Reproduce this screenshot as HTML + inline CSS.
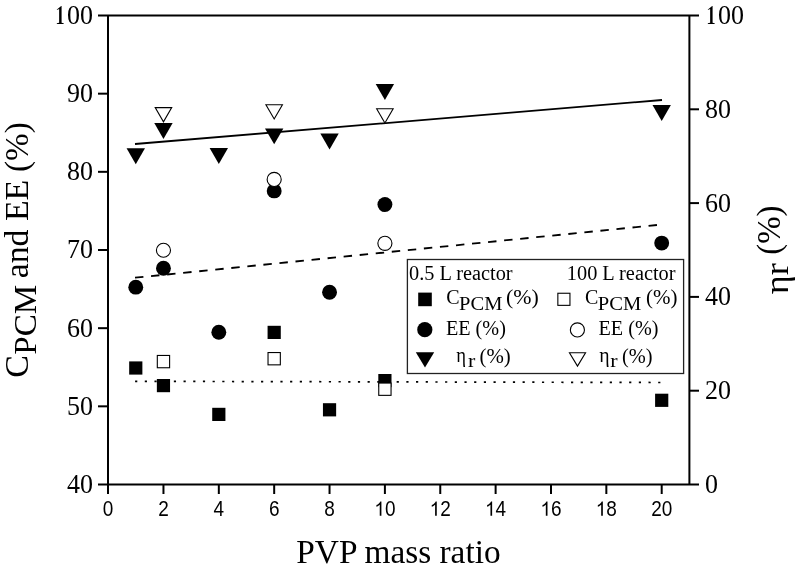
<!DOCTYPE html>
<html><head><meta charset="utf-8"><style>
html,body{margin:0;padding:0;background:#fff;}
svg{display:block;will-change:transform;}
.serif{font-family:"Liberation Serif",serif;fill:#000;}
.sans{font-family:"Liberation Sans",sans-serif;fill:#000;}
</style></head><body>
<svg width="799" height="573" viewBox="0 0 799 573">
<path d="M98,15.5 H699 M108,15.5 V494 M689.4,15.5 V484.5 M98,484.5 H699" stroke="#000" stroke-width="2" fill="none"/>
<path transform="translate(54.00,23.90) scale(0.012695,-0.013711)" d="M598,78 L764,52 L764,0 L223,0 L223,52 L405,78 L405,1080 L228,1010 L228,1053 L565,1310 L598,1310 Z" fill="#000"/>
<text transform="translate(93,23.90) scale(1,1.08)" class="serif" font-size="26" text-anchor="end">00</text>
<path d="M98,93.67 H108" stroke="#000" stroke-width="2"/>
<text transform="translate(93,102.07) scale(1,1.08)" class="serif" font-size="26" text-anchor="end">90</text>
<path d="M98,171.83 H108" stroke="#000" stroke-width="2"/>
<text transform="translate(93,180.23) scale(1,1.08)" class="serif" font-size="26" text-anchor="end">80</text>
<path d="M98,250.00 H108" stroke="#000" stroke-width="2"/>
<text transform="translate(93,258.40) scale(1,1.08)" class="serif" font-size="26" text-anchor="end">70</text>
<path d="M98,328.17 H108" stroke="#000" stroke-width="2"/>
<text transform="translate(93,336.57) scale(1,1.08)" class="serif" font-size="26" text-anchor="end">60</text>
<path d="M98,406.33 H108" stroke="#000" stroke-width="2"/>
<text transform="translate(93,414.73) scale(1,1.08)" class="serif" font-size="26" text-anchor="end">50</text>
<text transform="translate(93,492.90) scale(1,1.08)" class="serif" font-size="26" text-anchor="end">40</text>
<path transform="translate(705.00,23.90) scale(0.012695,-0.013711)" d="M598,78 L764,52 L764,0 L223,0 L223,52 L405,78 L405,1080 L228,1010 L228,1053 L565,1310 L598,1310 Z" fill="#000"/>
<text transform="translate(718,23.90) scale(1,1.08)" class="serif" font-size="26">00</text>
<path d="M689.4,109.30 H699" stroke="#000" stroke-width="2"/>
<text transform="translate(705,117.70) scale(1,1.08)" class="serif" font-size="26">80</text>
<path d="M689.4,203.10 H699" stroke="#000" stroke-width="2"/>
<text transform="translate(705,211.50) scale(1,1.08)" class="serif" font-size="26">60</text>
<path d="M689.4,296.90 H699" stroke="#000" stroke-width="2"/>
<text transform="translate(705,305.30) scale(1,1.08)" class="serif" font-size="26">40</text>
<path d="M689.4,390.70 H699" stroke="#000" stroke-width="2"/>
<text transform="translate(705,399.10) scale(1,1.08)" class="serif" font-size="26">20</text>
<text transform="translate(705,492.90) scale(1,1.08)" class="serif" font-size="26">0</text>
<text transform="translate(108.10,515.7) scale(1,1.12)" class="sans" font-size="19" text-anchor="middle">0</text>
<path d="M163.46,484.5 V494" stroke="#000" stroke-width="2"/>
<text transform="translate(163.46,515.7) scale(1,1.12)" class="sans" font-size="19" text-anchor="middle">2</text>
<path d="M218.82,484.5 V494" stroke="#000" stroke-width="2"/>
<text transform="translate(218.82,515.7) scale(1,1.12)" class="sans" font-size="19" text-anchor="middle">4</text>
<path d="M274.18,484.5 V494" stroke="#000" stroke-width="2"/>
<text transform="translate(274.18,515.7) scale(1,1.12)" class="sans" font-size="19" text-anchor="middle">6</text>
<path d="M329.54,484.5 V494" stroke="#000" stroke-width="2"/>
<text transform="translate(329.54,515.7) scale(1,1.12)" class="sans" font-size="19" text-anchor="middle">8</text>
<path d="M384.90,484.5 V494" stroke="#000" stroke-width="2"/>
<path transform="translate(374.33,515.7) scale(0.009277,-0.009579)" d="M763,0 L583,0 L583,1147 Q518,1085 412.5,1023 Q307,961 223,930 L223,1104 Q374,1175 487,1276 Q600,1377 647,1472 L763,1472 Z" fill="#000"/>
<text transform="translate(384.90,515.7) scale(1,1.12)" class="sans" font-size="19">0</text>
<path d="M440.26,484.5 V494" stroke="#000" stroke-width="2"/>
<path transform="translate(429.69,515.7) scale(0.009277,-0.009579)" d="M763,0 L583,0 L583,1147 Q518,1085 412.5,1023 Q307,961 223,930 L223,1104 Q374,1175 487,1276 Q600,1377 647,1472 L763,1472 Z" fill="#000"/>
<text transform="translate(440.26,515.7) scale(1,1.12)" class="sans" font-size="19">2</text>
<path d="M495.62,484.5 V494" stroke="#000" stroke-width="2"/>
<path transform="translate(485.05,515.7) scale(0.009277,-0.009579)" d="M763,0 L583,0 L583,1147 Q518,1085 412.5,1023 Q307,961 223,930 L223,1104 Q374,1175 487,1276 Q600,1377 647,1472 L763,1472 Z" fill="#000"/>
<text transform="translate(495.62,515.7) scale(1,1.12)" class="sans" font-size="19">4</text>
<path d="M550.98,484.5 V494" stroke="#000" stroke-width="2"/>
<path transform="translate(540.41,515.7) scale(0.009277,-0.009579)" d="M763,0 L583,0 L583,1147 Q518,1085 412.5,1023 Q307,961 223,930 L223,1104 Q374,1175 487,1276 Q600,1377 647,1472 L763,1472 Z" fill="#000"/>
<text transform="translate(550.98,515.7) scale(1,1.12)" class="sans" font-size="19">6</text>
<path d="M606.34,484.5 V494" stroke="#000" stroke-width="2"/>
<path transform="translate(595.77,515.7) scale(0.009277,-0.009579)" d="M763,0 L583,0 L583,1147 Q518,1085 412.5,1023 Q307,961 223,930 L223,1104 Q374,1175 487,1276 Q600,1377 647,1472 L763,1472 Z" fill="#000"/>
<text transform="translate(606.34,515.7) scale(1,1.12)" class="sans" font-size="19">8</text>
<path d="M661.70,484.5 V494" stroke="#000" stroke-width="2"/>
<text transform="translate(661.70,515.7) scale(1,1.12)" class="sans" font-size="19" text-anchor="middle">20</text>
<text x="296.35" y="563.00" class="serif" font-size="33" textLength="204.22" lengthAdjust="spacingAndGlyphs">PVP mass ratio</text>
<text transform="translate(28.00,377.69) rotate(-90)" class="serif" font-size="34">C</text>
<text transform="translate(35.80,354.75) rotate(-90)" class="serif" font-size="32" textLength="69.92" lengthAdjust="spacingAndGlyphs">PCM</text>
<text transform="translate(28.40,278.29) rotate(-90)" class="serif" font-size="34" textLength="98.47" lengthAdjust="spacingAndGlyphs">and EE</text>
<text transform="translate(27.60,171.95) rotate(-90)" class="serif" font-size="33" textLength="49.61" lengthAdjust="spacingAndGlyphs">(%)</text>
<text transform="translate(788.00,294.27) rotate(-90)" class="serif" font-size="34" textLength="31.09" lengthAdjust="spacingAndGlyphs">ηr</text>
<text transform="translate(779.90,254.74) rotate(-90)" class="serif" font-size="33" textLength="49.18" lengthAdjust="spacingAndGlyphs">(%)</text>
<path d="M135,144 L662,100" stroke="#000" stroke-width="1.8" fill="none"/>
<path d="M135,277.7 L661,224.6" stroke="#000" stroke-width="1.85" fill="none" stroke-dasharray="8.45 7.68"/>
<path d="M135.1,381.3 L660.5,382.5" stroke="#000" stroke-width="1.7" fill="none" stroke-dasharray="2.2 7.487"/>
<path d="M126.58,148.30 L144.98,148.30 L135.78,164.20 Z" fill="#000"/>
<path d="M154.26,123.00 L172.66,123.00 L163.46,138.90 Z" fill="#000"/>
<path d="M209.62,148.00 L228.02,148.00 L218.82,163.90 Z" fill="#000"/>
<path d="M264.98,128.40 L283.38,128.40 L274.18,144.30 Z" fill="#000"/>
<path d="M320.34,133.60 L338.74,133.60 L329.54,149.50 Z" fill="#000"/>
<path d="M375.70,84.10 L394.10,84.10 L384.90,100.00 Z" fill="#000"/>
<path d="M652.50,105.00 L670.90,105.00 L661.70,120.90 Z" fill="#000"/>
<circle cx="135.78" cy="287.15" r="7.45" fill="#000"/>
<circle cx="163.46" cy="268.3" r="7.45" fill="#000"/>
<circle cx="218.82" cy="332.2" r="7.45" fill="#000"/>
<circle cx="274.18" cy="190.9" r="7.45" fill="#000"/>
<circle cx="329.54" cy="292.2" r="7.45" fill="#000"/>
<circle cx="384.9" cy="204.55" r="7.45" fill="#000"/>
<circle cx="661.7" cy="243.1" r="7.45" fill="#000"/>
<rect x="129.18" y="361.40" width="13.2" height="13.2" fill="#000"/>
<rect x="156.86" y="379.00" width="13.2" height="13.2" fill="#000"/>
<rect x="212.22" y="407.80" width="13.2" height="13.2" fill="#000"/>
<rect x="267.58" y="325.80" width="13.2" height="13.2" fill="#000"/>
<rect x="322.94" y="403.20" width="13.2" height="13.2" fill="#000"/>
<rect x="378.30" y="374.00" width="13.2" height="13.2" fill="#000"/>
<rect x="655.10" y="393.70" width="13.2" height="13.2" fill="#000"/>
<path d="M155.21,107.65 L171.71,107.65 L163.46,121.90 Z" fill="#fff" stroke="#000" stroke-width="1.1" stroke-linejoin="miter"/>
<path d="M265.93,104.75 L282.43,104.75 L274.18,119.00 Z" fill="#fff" stroke="#000" stroke-width="1.1" stroke-linejoin="miter"/>
<path d="M376.65,108.75 L393.15,108.75 L384.90,123.00 Z" fill="#fff" stroke="#000" stroke-width="1.1" stroke-linejoin="miter"/>
<circle cx="163.46" cy="250.25" r="7.05" fill="#fff" stroke="#000" stroke-width="1.1"/>
<circle cx="274.18" cy="179.4" r="7.05" fill="#fff" stroke="#000" stroke-width="1.1"/>
<circle cx="384.9" cy="243.35" r="7.05" fill="#fff" stroke="#000" stroke-width="1.1"/>
<rect x="157.31" y="355.45" width="12.30" height="12.30" fill="#fff" stroke="#000" stroke-width="1.1"/>
<rect x="268.03" y="352.55" width="12.30" height="12.30" fill="#fff" stroke="#000" stroke-width="1.1"/>
<rect x="378.75" y="383.05" width="12.30" height="12.30" fill="#fff" stroke="#000" stroke-width="1.1"/>
<rect x="407.4" y="259.5" width="276.2" height="114" fill="#fff" stroke="#222" stroke-width="1.3"/>
<text x="409.03" y="279.90" class="serif" font-size="20" textLength="103.54" lengthAdjust="spacingAndGlyphs">0.5 L reactor</text>
<text x="566.83" y="279.90" class="serif" font-size="20" textLength="108.65" lengthAdjust="spacingAndGlyphs">100 L reactor</text>
<rect x="418.20" y="292.60" width="13.6" height="13.6" fill="#000"/>
<text x="446.18" y="303.80" class="serif" font-size="20">C</text>
<text x="459.11" y="309.50" class="serif" font-size="19.5" textLength="43.29" lengthAdjust="spacingAndGlyphs">PCM</text>
<text x="506.04" y="303.60" class="serif" font-size="20.5" textLength="32.82" lengthAdjust="spacingAndGlyphs">(%)</text>
<rect x="557.85" y="293.25" width="12.10" height="12.10" fill="#fff" stroke="#000" stroke-width="1.1"/>
<text x="585.08" y="303.80" class="serif" font-size="20">C</text>
<text x="597.81" y="309.50" class="serif" font-size="19.5" textLength="43.50" lengthAdjust="spacingAndGlyphs">PCM</text>
<text x="646.08" y="303.60" class="serif" font-size="20.5" textLength="31.44" lengthAdjust="spacingAndGlyphs">(%)</text>
<circle cx="424.8" cy="329.7" r="7.6" fill="#000"/>
<text x="445.92" y="335.20" class="serif" font-size="20" textLength="59.97" lengthAdjust="spacingAndGlyphs">EE (%)</text>
<circle cx="577.4" cy="329.9" r="7.05" fill="#fff" stroke="#000" stroke-width="1.1"/>
<text x="598.52" y="335.20" class="serif" font-size="20" textLength="59.87" lengthAdjust="spacingAndGlyphs">EE (%)</text>
<path d="M415.80,352.20 L434.20,352.20 L425.00,367.60 Z" fill="#000"/>
<text x="456.21" y="361.90" class="serif" font-size="20" textLength="9.77" lengthAdjust="spacingAndGlyphs">η</text>
<text x="468.06" y="367.00" class="serif" font-size="18" textLength="7.33" lengthAdjust="spacingAndGlyphs">r</text>
<text x="479.58" y="362.80" class="serif" font-size="20.5" textLength="31.23" lengthAdjust="spacingAndGlyphs">(%)</text>
<path d="M569.45,352.75 L585.55,352.75 L577.50,366.10 Z" fill="#fff" stroke="#000" stroke-width="1.1" stroke-linejoin="miter"/>
<text x="599.19" y="361.90" class="serif" font-size="20" textLength="10.34" lengthAdjust="spacingAndGlyphs">η</text>
<text x="610.36" y="367.00" class="serif" font-size="18" textLength="7.33" lengthAdjust="spacingAndGlyphs">r</text>
<text x="621.90" y="362.80" class="serif" font-size="20.5" textLength="30.59" lengthAdjust="spacingAndGlyphs">(%)</text>
</svg>
</body></html>
